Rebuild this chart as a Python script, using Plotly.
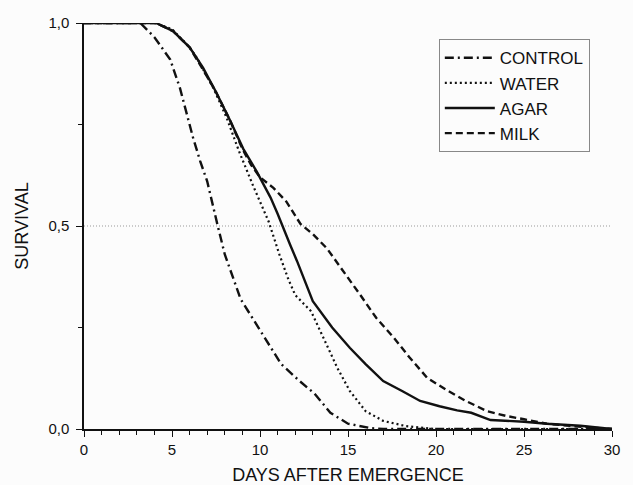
import plotly.graph_objects as go

# ---- data ----
control_x = [0, 3.2, 4.0, 4.9, 5.45, 6.2, 6.6, 7.0, 7.6, 8.0, 8.9, 9.4, 10.3, 11.2, 12.2, 13.1, 14.0, 15.0, 16.3, 17.0, 30]
control_y = [1.0, 1.0, 0.965, 0.91, 0.84, 0.717, 0.66, 0.61, 0.50, 0.43, 0.32, 0.285, 0.225, 0.16, 0.12, 0.087, 0.04, 0.013, 0.002, 0.0, 0.0]

water_x = [0, 4.0, 5.0, 6.0, 6.4, 7.35, 8.1, 8.8, 9.6, 10.5, 11.1, 11.6, 12.0, 12.9, 13.6, 14.4, 15.1, 16.0, 17.0, 18.3, 19.9, 30]
water_y = [1.0, 1.0, 0.985, 0.94, 0.915, 0.84, 0.767, 0.685, 0.60, 0.51, 0.43, 0.37, 0.33, 0.29, 0.225, 0.15, 0.094, 0.044, 0.02, 0.007, 0.0, 0.0]

agar_x = [0, 4.1, 5.06, 6.0, 6.76, 7.5, 8.3, 9.05, 9.8, 10.6, 11.0, 11.3, 11.7, 12.1, 13.0, 14.1, 15.1, 16.0, 17.0, 18.1, 19.1, 20.2, 21.2, 22.0, 23.1, 25.0, 26.3, 28.2, 30]
agar_y = [1.0, 1.0, 0.98, 0.94, 0.89, 0.83, 0.76, 0.69, 0.635, 0.57, 0.53, 0.496, 0.455, 0.414, 0.315, 0.25, 0.2, 0.16, 0.118, 0.093, 0.069, 0.056, 0.046, 0.04, 0.022, 0.018, 0.013, 0.008, 0.0]

milk_x = [0, 4.1, 5.06, 6.0, 6.76, 7.5, 8.3, 9.0, 9.5, 10.0, 10.76, 11.5, 12.3, 13.0, 13.8, 14.9, 15.7, 16.6, 17.6, 18.5, 19.5, 20.6, 21.7, 22.9, 24.0, 25.0, 26.3, 27.8, 29.0, 30]
milk_y = [1.0, 1.0, 0.98, 0.94, 0.885, 0.83, 0.76, 0.69, 0.65, 0.62, 0.594, 0.56, 0.505, 0.48, 0.445, 0.38, 0.33, 0.274, 0.225, 0.176, 0.126, 0.096, 0.069, 0.044, 0.032, 0.024, 0.013, 0.007, 0.003, 0.0]

half_line = 0.5

FONT = "Liberation Sans, Arial, sans-serif"
INK = "#111111"

fig = go.Figure()
fig.add_trace(go.Scatter(x=control_x, y=control_y, name="CONTROL", mode="lines",
                         line=dict(color=INK, width=2.4, dash="9px,4px,2px,4px")))
fig.add_trace(go.Scatter(x=water_x, y=water_y, name="WATER", mode="lines",
                         line=dict(color=INK, width=2.2, dash="2px,3px")))
fig.add_trace(go.Scatter(x=agar_x, y=agar_y, name="AGAR", mode="lines",
                         line=dict(color=INK, width=2.4)))
fig.add_trace(go.Scatter(x=milk_x, y=milk_y, name="MILK", mode="lines",
                         line=dict(color=INK, width=2.4, dash="7px,4px")))

fig.add_shape(type="line", xref="paper", x0=0, x1=1, yref="y", y0=half_line, y1=half_line,
              line=dict(color="#999999", width=1, dash="1px,2px"), layer="below")

fig.update_traces(cliponaxis=False)

fig.update_layout(
    width=633, height=485,
    margin=dict(l=84, r=21, t=23, b=56, autoexpand=False),
    paper_bgcolor="#fcfcfc", plot_bgcolor="#fcfcfc",
    separators=",.",
    font=dict(family=FONT, color=INK, size=15),
    showlegend=True,
    legend=dict(x=0.672, y=0.96, xanchor="left", yanchor="top",
                bordercolor="#888888", borderwidth=1, bgcolor="rgba(0,0,0,0)",
                font=dict(size=17, family=FONT, color=INK), itemwidth=50,
                tracegroupgap=0),
)

fig.update_xaxes(
    range=[0, 30], dtick=5, tick0=0, showgrid=False, zeroline=False, automargin=False,
    showline=True, linecolor=INK, linewidth=1.5,
    ticks="outside", ticklen=6, tickwidth=1.3, tickcolor=INK,
    minor=dict(dtick=1, ticks="outside", ticklen=4, tickwidth=1, tickcolor=INK),
    tickfont=dict(size=15),
    title=dict(text="DAYS AFTER EMERGENCE", font=dict(size=18), standoff=12),
)
fig.update_yaxes(
    range=[0, 1], tickvals=[0, 0.5, 1], tickformat=".1f", showgrid=False, zeroline=False,
    automargin=False,
    showline=True, linecolor=INK, linewidth=1.5,
    ticks="outside", ticklen=6, tickwidth=1.3, tickcolor=INK,
    minor=dict(tickvals=[0.25, 0.75], ticks="outside", ticklen=4, tickwidth=1, tickcolor=INK),
    tickfont=dict(size=15), ticklabelstandoff=4,
    title=dict(text="SURVIVAL", font=dict(size=18), standoff=15),
)

fig.write_html("out.html", config={"displayModeBar": False},
               post_script="document.body.style.margin='0px';")
